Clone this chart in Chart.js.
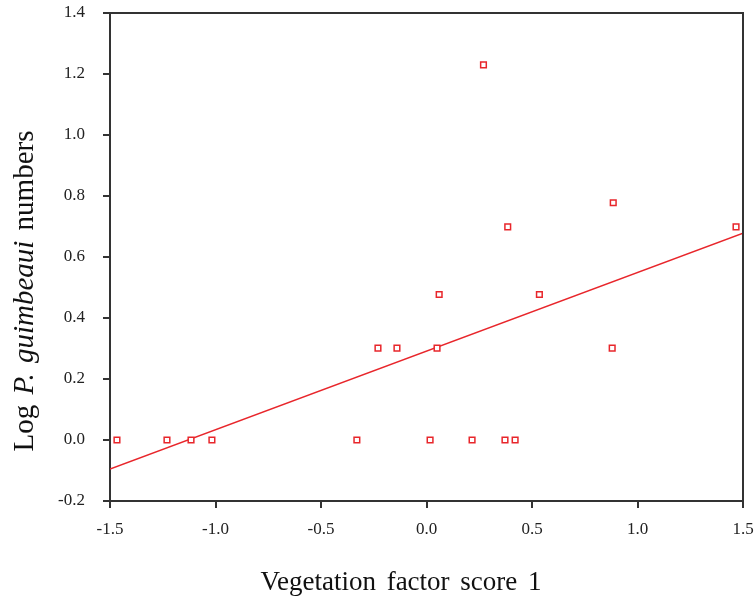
<!DOCTYPE html>
<html>
<head>
<meta charset="utf-8">
<title>Log P. guimbeaui numbers vs vegetation factor score 1</title>
<script src="https://cdn.jsdelivr.net/npm/chart.js@4/dist/chart.umd.min.js"></script>
<style>
  html, body { margin: 0; padding: 0; background: #fff; }
  #wrap { width: 754px; height: 599px; position: relative; }
</style>
</head>
<body>
<div id="wrap"><canvas id="chart"></canvas></div>
<script>
// factor score 1 (x) and log numbers (y)
const scoreX = [-1.467, -1.23, -1.116, -1.017, -0.33, 0.017, 0.216, 0.372, 0.42,
  -0.23, -0.14, 0.05, 0.06, 0.535, 0.27, 0.385, 0.885, 0.88, 1.467];
const logY = [0, 0, 0, 0, 0, 0, 0, 0, 0,
  0.301, 0.301, 0.301, 0.477, 0.477, 1.23, 0.699, 0.778, 0.301, 0.699];

// fitted regression line, end points
const fitX = [-1.5, 1.5];
const fitY = [-0.095, 0.678];

const xTicks = [-1.5, -1.0, -0.5, 0.0, 0.5, 1.0, 1.5];
const yTicks = [-0.2, 0.0, 0.2, 0.4, 0.6, 0.8, 1.0, 1.2, 1.4];

const RED = "#e8262b";
const AXIS = "#333";
const SERIF = "'Liberation Serif', 'Times New Roman', serif";

const points = scoreX.map((x, i) => ({ x, y: logY[i] }));
const fitLine = fitX.map((x, i) => ({ x, y: fitY[i] }));

// box round the plot + the two axis titles (y one has an italic part)
const framePlugin = {
  id: "frame",
  afterDraw(chart) {
    const { ctx, chartArea: a } = chart;
    ctx.save();
    ctx.strokeStyle = AXIS;
    ctx.lineWidth = 2;
    ctx.beginPath();
    ctx.moveTo(a.left, a.top);
    ctx.lineTo(a.right, a.top);
    ctx.lineTo(a.right, a.bottom);
    ctx.stroke();

    ctx.fillStyle = "#111";
    ctx.textBaseline = "alphabetic";

    // x title
    if ("wordSpacing" in ctx) ctx.wordSpacing = "4px";
    ctx.font = `27px ${SERIF}`;
    ctx.textAlign = "center";
    ctx.fillText("Vegetation factor score 1", 401, 590);

    // y title, rotated, mixed fonts
    if ("wordSpacing" in ctx) ctx.wordSpacing = "3px";
    const parts = [
      { t: "Log ", f: `29px ${SERIF}` },
      { t: "P. guimbeaui", f: `italic 29px ${SERIF}` },
      { t: " numbers", f: `29px ${SERIF}` }
    ];
    let total = 0;
    parts.forEach((p) => { ctx.font = p.f; p.w = ctx.measureText(p.t).width; total += p.w; });
    ctx.translate(33, 291);
    ctx.rotate(-Math.PI / 2);
    ctx.textAlign = "left";
    let cx = -total / 2;
    parts.forEach((p) => { ctx.font = p.f; ctx.fillText(p.t, cx, 0); cx += p.w; });
    ctx.restore();
  }
};

new Chart(document.getElementById("chart"), {
  type: "scatter",
  data: {
    datasets: [
      {
        label: "Sites",
        data: points,
        pointStyle: "rect",
        pointRadius: 4,
        pointHoverRadius: 4,
        borderColor: RED,
        backgroundColor: "#fff",
        borderWidth: 1.5
      },
      {
        type: "line",
        label: "Fit",
        data: fitLine,
        borderColor: RED,
        borderWidth: 1.5,
        pointRadius: 0,
        fill: false,
        tension: 0
      }
    ]
  },
  options: {
    responsive: true,
    maintainAspectRatio: false,
    animation: false,
    layout: { padding: { left: 0, right: 11, top: 13, bottom: 0 } },
    plugins: { legend: { display: false }, tooltip: { enabled: false } },
    scales: {
      x: {
        type: "linear",
        min: -1.5,
        max: 1.5,
        afterBuildTicks: (s) => { s.ticks = xTicks.map((v) => ({ value: v })); },
        afterFit: (s) => { s.height = 98; s.paddingLeft = 0; s.paddingRight = 0; },
        ticks: {
          color: "#222",
          font: { family: SERIF, size: 17 },
          padding: 11,
          maxRotation: 0,
          callback: (v) => v.toFixed(1)
        },
        grid: { drawOnChartArea: false, drawTicks: true, tickLength: 7, color: AXIS, lineWidth: 2 },
        border: { color: AXIS, width: 2 }
      },
      y: {
        type: "linear",
        min: -0.2,
        max: 1.4,
        afterBuildTicks: (s) => { s.ticks = yTicks.map((v) => ({ value: v })); },
        afterFit: (s) => { s.width = 110; s.paddingTop = 0; s.paddingBottom = 0; },
        ticks: {
          color: "#222",
          font: { family: SERIF, size: 17 },
          padding: 18,
          callback: (v) => v.toFixed(1)
        },
        grid: { drawOnChartArea: false, drawTicks: true, tickLength: 7, color: AXIS, lineWidth: 2 },
        border: { color: AXIS, width: 2 }
      }
    }
  },
  plugins: [framePlugin]
});
</script>
</body>
</html>
